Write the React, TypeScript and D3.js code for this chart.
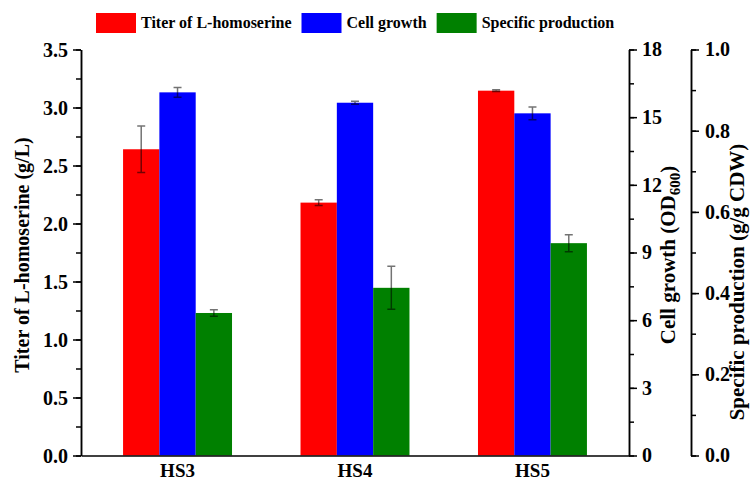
import React, { useEffect, useRef } from "react";
import * as d3 from "d3";

const categories = ["HS3", "HS4", "HS5"];
const titer = [2.64, 2.18, 3.145];
const titerErr = [0.2, 0.025, 0.008];
const cellGrowth = [16.1, 15.64, 15.17];
const cellGrowthErr = [0.22, 0.07, 0.28];
const specific = [0.351, 0.413, 0.523];
const specificErr = [0.008, 0.053, 0.021];

const leftTicks = [0, 0.5, 1.0, 1.5, 2.0, 2.5, 3.0, 3.5];
const cellTicks = [0, 3, 6, 9, 12, 15, 18];
const specTicks = [0, 0.2, 0.4, 0.6, 0.8, 1.0];

const seriesNames = ["Titer of L-homoserine", "Cell growth", "Specific production"];
const seriesColors = ["#ff0000", "#0000ff", "#008000"];

const FONT = "'Liberation Serif', 'Times New Roman', serif";

const App = () => {
  const svgRef = useRef<SVGSVGElement>(null);

  useEffect(() => {
    const width = 750;
    const height = 480;
    const left = 81, right = 629, top = 49.5, bottom = 455.5;
    const specAxisX = 691;

    const svg = d3.select(svgRef.current).attr("width", width).attr("height", height);
    svg.selectAll("*").remove();

    const x0 = d3.scaleBand().domain(categories).range([left, right])
      .paddingInner(0.386).paddingOuter(0.237);
    const x1 = d3.scaleBand().domain(seriesNames).range([0, x0.bandwidth()]);

    const yTiter = d3.scaleLinear().domain([0, 3.5]).range([bottom, top]);
    const yCell = d3.scaleLinear().domain([0, 18]).range([bottom, top]);
    const ySpec = d3.scaleLinear().domain([0, 1]).range([bottom, top]);

    const series = [
      { name: seriesNames[0], values: titer, errs: titerErr, y: yTiter },
      { name: seriesNames[1], values: cellGrowth, errs: cellGrowthErr, y: yCell },
      { name: seriesNames[2], values: specific, errs: specificErr, y: ySpec },
    ];

    // bars
    series.forEach((s, si) => {
      const g = svg.append("g");
      g.selectAll("rect")
        .data(s.values)
        .enter()
        .append("rect")
        .attr("x", (_, i) => x0(categories[i])! + x1(s.name)!)
        .attr("y", d => s.y(d))
        .attr("width", x1.bandwidth())
        .attr("height", d => bottom - s.y(d))
        .attr("fill", seriesColors[si]);

      // error bars
      const eg = svg.append("g")
        .attr("stroke", "#000")
        .attr("stroke-opacity", 0.55)
        .attr("stroke-width", 1.5)
        .attr("fill", "none");
      s.values.forEach((v, i) => {
        const cx = x0(categories[i])! + x1(s.name)! + x1.bandwidth() / 2;
        const yHi = s.y(v + s.errs[i]);
        const yLo = s.y(v - s.errs[i]);
        eg.append("path")
          .attr("d", `M${cx},${yHi}V${yLo}M${cx - 4},${yHi}H${cx + 4}M${cx - 4},${yLo}H${cx + 4}`);
      });
    });

    const styleAxis = (g: any) => {
      g.selectAll("path, line").attr("stroke", "#000").attr("stroke-width", 1.5);
      g.selectAll("text")
        .attr("font-family", FONT)
        .attr("font-weight", "bold")
        .attr("font-size", 20)
        .attr("fill", "#000");
    };

    const minorOf = (scale: any, step: number) => d3.range(0, scale.domain()[1] + 1e-9, step);

    // left axis
    const gl = svg.append("g").attr("transform", `translate(${left},0)`);
    gl.append("g").call(d3.axisLeft(yTiter).tickValues(minorOf(yTiter, 0.25)).tickSize(5).tickFormat(() => "").tickSizeOuter(0));
    gl.append("g").call(d3.axisLeft(yTiter).tickValues(leftTicks).tickSize(8).tickPadding(5)
      .tickFormat(d3.format(".1f")).tickSizeOuter(0));
    styleAxis(gl);
    gl.selectAll("text").attr("dy", "0.35em");

    // cell growth axis
    const gc = svg.append("g").attr("transform", `translate(${right},0)`);
    gc.append("g").call(d3.axisRight(yCell).tickValues(minorOf(yCell, 1.5)).tickSize(5).tickFormat(() => "").tickSizeOuter(0));
    gc.append("g").call(d3.axisRight(yCell).tickValues(cellTicks).tickSize(8).tickPadding(5)
      .tickFormat(d3.format("d")).tickSizeOuter(0));
    styleAxis(gc);

    // specific production axis
    const gs = svg.append("g").attr("transform", `translate(${specAxisX},0)`);
    gs.append("g").call(d3.axisRight(ySpec).tickValues(minorOf(ySpec, 0.1)).tickSize(5).tickFormat(() => "").tickSizeOuter(0));
    gs.append("g").call(d3.axisRight(ySpec).tickValues(specTicks).tickSize(8).tickPadding(6)
      .tickFormat(d3.format(".1f")).tickSizeOuter(0));
    styleAxis(gs);

    // bottom axis
    const gb = svg.append("g").attr("transform", `translate(0,${bottom})`);
    gb.call(d3.axisBottom(x0).tickSize(0).tickPadding(8).tickSizeOuter(0));
    styleAxis(gb);
    gb.selectAll("text").attr("font-size", 19).attr("dy", "0.71em");

    // axis titles
    const title = (x: number, y: number, txt: string, size: number) =>
      svg.append("text")
        .attr("transform", `translate(${x},${y}) rotate(-90)`)
        .attr("text-anchor", "middle")
        .attr("font-family", FONT)
        .attr("font-weight", "bold")
        .attr("font-size", size)
        .text(txt);

    title(29, 255, "Titer of L-homoserine (g/L)", 20);

    const ct = title(675, 255, "Cell growth (OD", 21);
    ct.append("tspan").attr("font-size", 15).attr("dy", 5).text("600");
    ct.append("tspan").attr("dy", -5).text(")");

    title(744, 282, "Specific production (g/g CDW)", 21);

    // legend
    const lg = svg.append("g").attr("font-family", FONT).attr("font-weight", "bold").attr("font-size", 16);
    let lx = 96;
    seriesNames.forEach((name, i) => {
      lg.append("rect").attr("x", lx).attr("y", 13).attr("width", 40).attr("height", 20)
        .attr("fill", seriesColors[i]);
      const t = lg.append("text").attr("x", lx + 45).attr("y", 28).text(name);
      const w = (t.node() as SVGTextElement).getComputedTextLength();
      lx += 45 + w + 10;
    });
  }, []);

  return (
    <svg
      ref={svgRef}
      style={{ position: "absolute", left: 0, top: 0, background: "#fff" }}
    ></svg>
  );
};

export default App;
